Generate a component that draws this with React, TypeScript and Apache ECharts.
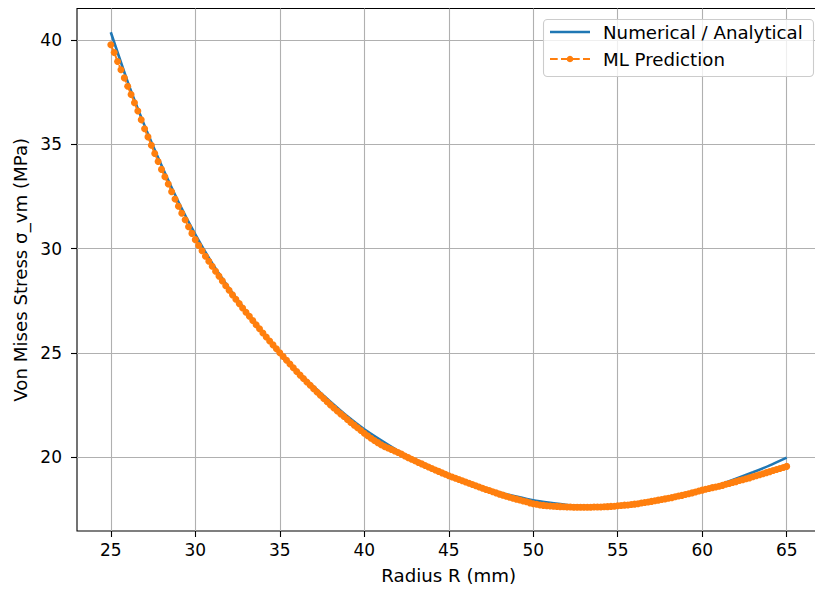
import React, { useEffect, useRef } from "react";
import * as echarts from "echarts";

const analyticRadius = [
  25, 26, 27, 28, 29, 30, 31, 32, 33, 34, 35, 36, 37, 38, 39, 40, 41, 42, 43, 44, 45,
  46, 47, 48, 49, 50, 51, 52, 53, 54, 55, 56, 57, 58, 59, 60, 61, 62, 63, 64, 65,
];
const analyticStress = [
  40.38, 38.0, 35.9, 34.0, 32.25, 30.68, 29.3, 28.1, 27.02, 26.0, 25.05, 24.17, 23.38,
  22.65, 21.95, 21.33, 20.8, 20.3, 19.88, 19.5, 19.15, 18.83, 18.55, 18.3, 18.1, 17.92,
  17.8, 17.7, 17.65, 17.63, 17.65, 17.72, 17.84, 17.99, 18.18, 18.4, 18.66, 18.96, 19.27,
  19.6, 19.97,
];

const mlRadius = [
  25, 25.2, 25.4, 25.6, 25.8, 26, 26.2, 26.4, 26.6, 26.8, 27, 27.2, 27.4, 27.6, 27.8,
  28, 28.2, 28.4, 28.6, 28.8, 29, 29.2, 29.4, 29.6, 29.8, 30, 30.2, 30.4, 30.6, 30.8,
  31, 31.2, 31.4, 31.6, 31.8, 32, 32.2, 32.4, 32.6, 32.8, 33, 33.2, 33.4, 33.6, 33.8,
  34, 34.2, 34.4, 34.6, 34.8, 35, 35.2, 35.4, 35.6, 35.8, 36, 36.2, 36.4, 36.6, 36.8,
  37, 37.2, 37.4, 37.6, 37.8, 38, 38.2, 38.4, 38.6, 38.8, 39, 39.2, 39.4, 39.6, 39.8,
  40, 40.2, 40.4, 40.6, 40.8, 41, 41.2, 41.4, 41.6, 41.8, 42, 42.2, 42.4, 42.6, 42.8,
  43, 43.2, 43.4, 43.6, 43.8, 44, 44.2, 44.4, 44.6, 44.8, 45, 45.2, 45.4, 45.6, 45.8,
  46, 46.2, 46.4, 46.6, 46.8, 47, 47.2, 47.4, 47.6, 47.8, 48, 48.2, 48.4, 48.6, 48.8,
  49, 49.2, 49.4, 49.6, 49.8, 50, 50.2, 50.4, 50.6, 50.8, 51, 51.2, 51.4, 51.6, 51.8,
  52, 52.2, 52.4, 52.6, 52.8, 53, 53.2, 53.4, 53.6, 53.8, 54, 54.2, 54.4, 54.6, 54.8,
  55, 55.2, 55.4, 55.6, 55.8, 56, 56.2, 56.4, 56.6, 56.8, 57, 57.2, 57.4, 57.6, 57.8,
  58, 58.2, 58.4, 58.6, 58.8, 59, 59.2, 59.4, 59.6, 59.8, 60, 60.2, 60.4, 60.6, 60.8,
  61, 61.2, 61.4, 61.6, 61.8, 62, 62.2, 62.4, 62.6, 62.8, 63, 63.2, 63.4, 63.6, 63.8,
  64, 64.2, 64.4, 64.6, 64.8, 65,
];
const mlStress = [
  39.78, 39.41, 38.98, 38.58, 38.19, 37.79, 37.39, 37.0, 36.6, 36.18, 35.75, 35.36, 34.96, 34.56, 34.18,
  33.8, 33.45, 33.1, 32.73, 32.38, 32.03, 31.7, 31.38, 31.05, 30.73, 30.43, 30.15, 29.9, 29.63, 29.39,
  29.15, 28.91, 28.68, 28.45, 28.22, 28.0, 27.78, 27.57, 27.36, 27.15, 26.95, 26.75, 26.55, 26.35, 26.15,
  25.95, 25.76, 25.57, 25.38, 25.19, 25.0, 24.82, 24.64, 24.46, 24.28, 24.1, 23.93, 23.77, 23.6, 23.44,
  23.28, 23.12, 22.96, 22.81, 22.65, 22.5, 22.35, 22.21, 22.07, 21.94, 21.8, 21.66, 21.53, 21.4, 21.27,
  21.14, 21.02, 20.9, 20.79, 20.69, 20.59, 20.5, 20.43, 20.36, 20.29, 20.22, 20.14, 20.05, 19.97, 19.89,
  19.82, 19.74, 19.67, 19.59, 19.52, 19.45, 19.38, 19.31, 19.24, 19.17, 19.1, 19.04, 18.98, 18.92, 18.86,
  18.8, 18.74, 18.68, 18.62, 18.56, 18.5, 18.44, 18.39, 18.33, 18.28, 18.22, 18.17, 18.12, 18.07, 18.02,
  17.98, 17.94, 17.89, 17.85, 17.8, 17.76, 17.73, 17.7, 17.68, 17.66, 17.65, 17.64, 17.63, 17.62, 17.61,
  17.6, 17.6, 17.59, 17.59, 17.59, 17.59, 17.59, 17.59, 17.6, 17.6, 17.6, 17.61, 17.62, 17.63, 17.64,
  17.66, 17.67, 17.69, 17.7, 17.72, 17.74, 17.76, 17.79, 17.82, 17.84, 17.87, 17.9, 17.93, 17.96, 17.99,
  18.02, 18.05, 18.09, 18.13, 18.16, 18.2, 18.24, 18.28, 18.32, 18.37, 18.41, 18.45, 18.49, 18.53, 18.56,
  18.6, 18.64, 18.69, 18.73, 18.78, 18.82, 18.87, 18.91, 18.96, 19.0, 19.05, 19.1, 19.15, 19.2, 19.25,
  19.3, 19.35, 19.4, 19.45, 19.5, 19.55,
];

const xTicks = [25, 30, 35, 40, 45, 50, 55, 60, 65];
const yTicks = [20, 25, 30, 35, 40];
const legendLabels = ["Numerical / Analytical", "ML Prediction"];
const xAxisTitle = "Radius R (mm)";
const yAxisTitle = "Von Mises Stress σ_vm (MPa)";

const FONT = "'DejaVu Sans', sans-serif";
const TICK_FS = 17;
const FS = 18.2;
const BLUE = "#1f77b4";
const ORANGE = "#ff7f0e";

export default function App() {
  const ref = useRef<HTMLDivElement>(null);
  useEffect(() => {
    if (!ref.current) return;
    const chart = echarts.init(ref.current, null, { renderer: "svg" });
    chart.setOption({
      animation: false,
      backgroundColor: "#ffffff",
      grid: {
        left: 77,
        right: 0.5,
        top: 8.5,
        bottom: 55.3,
        show: true,
        borderColor: "#000000",
        borderWidth: 1.1,
        backgroundColor: "transparent",
      },
      xAxis: {
        type: "value",
        min: 23,
        max: 67,
        splitNumber: 9,
        name: xAxisTitle,
        nameLocation: "middle",
        nameGap: 35,
        nameTextStyle: { fontFamily: FONT, fontSize: FS, color: "#000" },
        axisLine: { show: false },
        axisTick: {
          show: true,
          length: 6,
          customValues: xTicks,
          lineStyle: { color: "#000", width: 1.1 },
        },
        axisLabel: {
          customValues: xTicks,
          fontFamily: FONT,
          fontSize: TICK_FS,
          color: "#000",
          margin: 10,
        },
        splitLine: { show: true, lineStyle: { color: "#b0b0b0", width: 1.1 } },
      },
      yAxis: {
        type: "value",
        min: 16.45,
        max: 41.52,
        splitNumber: 5,
        name: yAxisTitle,
        nameLocation: "middle",
        nameGap: 44,
        nameTextStyle: { fontFamily: FONT, fontSize: FS, color: "#000" },
        axisLine: { show: false },
        axisTick: {
          show: true,
          length: 6,
          customValues: yTicks,
          lineStyle: { color: "#000", width: 1.1 },
        },
        axisLabel: {
          customValues: yTicks,
          fontFamily: FONT,
          fontSize: TICK_FS,
          color: "#000",
          margin: 15,
        },
        splitLine: { show: true, lineStyle: { color: "#b0b0b0", width: 1.1 } },
      },
      series: [
        {
          type: "line",
          name: legendLabels[0],
          data: analyticRadius.map((x, i) => [x, analyticStress[i]]),
          showSymbol: false,
          smooth: 0.2,
          lineStyle: { color: BLUE, width: 2.6 },
          itemStyle: { color: BLUE },
          z: 2,
        },
        {
          type: "line",
          name: legendLabels[1],
          data: mlRadius.map((x, i) => [x, mlStress[i]]),
          symbol: "circle",
          symbolSize: 7,
          showSymbol: true,
          showAllSymbol: true,
          itemStyle: { color: ORANGE, borderWidth: 0 },
          lineStyle: { color: ORANGE, width: 2, type: [7.7, 3.3] },
          z: 3,
        },
      ],
      graphic: [
        {
          type: "rect",
          z: 100,
          shape: { x: 543.5, y: 19.5, width: 270, height: 57, r: 4 },
          style: { fill: "rgba(255,255,255,0.8)", stroke: "#cccccc", lineWidth: 1.1 },
        },
        {
          type: "line",
          z: 101,
          shape: { x1: 550, y1: 32, x2: 590, y2: 32 },
          style: { stroke: BLUE, lineWidth: 2.6 },
        },
        {
          type: "line",
          z: 101,
          shape: { x1: 550, y1: 59, x2: 590, y2: 59 },
          style: { stroke: ORANGE, lineWidth: 2, lineDash: [7.7, 3.3] },
        },
        {
          type: "circle",
          z: 102,
          shape: { cx: 570, cy: 59, r: 3.3 },
          style: { fill: ORANGE },
        },
        {
          type: "text",
          z: 102,
          x: 603,
          y: 32,
          style: {
            text: legendLabels[0],
            fontFamily: FONT,
            fontSize: FS,
            fill: "#000",
            verticalAlign: "middle",
            align: "left",
          },
        },
        {
          type: "text",
          z: 102,
          x: 603,
          y: 59,
          style: {
            text: legendLabels[1],
            fontFamily: FONT,
            fontSize: FS,
            fill: "#000",
            verticalAlign: "middle",
            align: "left",
          },
        },
      ],
    });
    return () => chart.dispose();
  }, []);
  return (
    <div
      style={{
        position: "fixed",
        left: 0,
        top: 0,
        width: 815,
        height: 589,
        overflow: "hidden",
        background: "#fff",
      }}
    >
      <div ref={ref} style={{ width: 821, height: 589 }} />
    </div>
  );
}
